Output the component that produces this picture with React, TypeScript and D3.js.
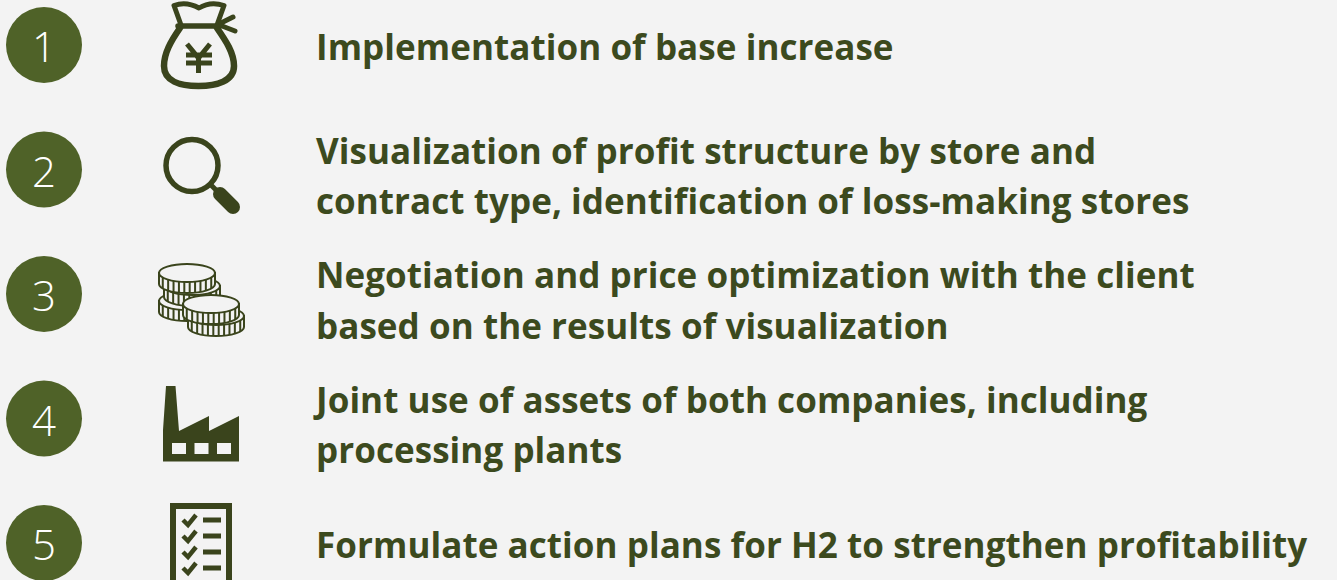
import React from 'react';
import * as d3 from 'd3';

const numbers = ['1', '2', '3', '4', '5'];
const captions = [
  ['Implementation of base increase'],
  ['Visualization of profit structure by store and', 'contract type, identification of loss-making stores'],
  ['Negotiation and price optimization with the client', 'based on the results of visualization'],
  ['Joint use of assets of both companies, including', 'processing plants'],
  ['Formulate action plans for H2 to strengthen profitability'],
];

const W = 1337;
const H = 580;
const BG = '#f3f3f3';
const CIRCLE = '#4f6228';
const DARK = '#3a441c';
const TEXT = '#3c4a1e';

// row centres, evenly spaced down the page
const rowY = d3.scaleLinear().domain([0, 4]).range([45, 543]);

const MoneyBag = () => (
  <g fill="none" stroke={DARK} strokeWidth={6.500} strokeLinejoin="round" strokeLinecap="round">
    <path d="M180 28 C171 41 164 53 164 66 C164 81 180 86 198.500 86 C217 86 234 81 234 66 C234 53 226 41 217 28" />
    <path d="M178 26 H220" strokeWidth={5.500} />
    <path d="M181 25 L174 5.500 C182 2.500 190 3 199 8 C207 3 215 2.500 224 5.500 L217 25" strokeWidth={5} />
    <path d="M221 23 L233 17 M222 26 L235 31" strokeWidth={5} />
    <path d="M187 44 L198.500 58 L210 44 M186 55 H212 M186 63 H212 M198.500 58 V73" strokeWidth={5} strokeLinecap="butt" strokeLinejoin="miter" />
  </g>
);

const Magnifier = () => (
  <g fill="none" stroke={DARK} strokeLinecap="round">
    <circle cx={192} cy={165.500} r={26} strokeWidth={5.500} />
    <path d="M211 185 L219 193" strokeWidth={5} />
    <path d="M220 194 L233 207" strokeWidth={14} />
  </g>
);

const Coin = ({ cx, cy }: { cx: number; cy: number }) => {
  const rx = 28;
  const ry = 9;
  const h = 11;
  const ridges = d3.range(-4.500, 5, 1).map((d) => d / 5.200);
  return (
    <g stroke={DARK} strokeWidth={2} fill={BG}>
      <path d={`M${cx - rx} ${cy} V${cy + h} A${rx} ${ry} 0 0 0 ${cx + rx} ${cy + h} V${cy} Z`} />
      {ridges.map((r) => {
        const x = cx + rx * r;
        const y = cy + ry * Math.sqrt(1 - r * r);
        return <line key={r} x1={x} x2={x} y1={y} y2={y + h} />;
      })}
      <ellipse cx={cx} cy={cy} rx={rx} ry={ry} />
    </g>
  );
};

const Coins = () => (
  <g>
    <Coin cx={187} cy={301} />
    <Coin cx={192} cy={286} />
    <Coin cx={187} cy={273} />
    <Coin cx={216} cy={316} />
    <Coin cx={211} cy={304} />
  </g>
);

const Factory = () => (
  <g>
    <path d="M163 461.500 V430 L166 386 H175.500 L179 431 L209 416 V431 L239 416 V461.500 Z" fill={DARK} />
    {[172, 194.500, 217].map((x) => (
      <rect key={x} x={x} y={443} width={14} height={11} fill={BG} />
    ))}
  </g>
);

const Checklist = () => (
  <g>
    <rect x={173} y={506} width={56} height={80} fill="none" stroke={DARK} strokeWidth={6} />
    {[520, 536, 552, 568].map((y) => (
      <g key={y}>
        <path d={`M183 ${y} L188 ${y + 5} L196 ${y - 5}`} fill="none" stroke={DARK} strokeWidth={4.500} />
        <rect x={203} y={y - 2.500} width={18} height={5} fill={DARK} />
      </g>
    ))}
  </g>
);

export default function App() {
  return (
    <svg
      width={W}
      height={H}
      viewBox={`0 0 ${W} ${H}`}
      style={{ position: 'absolute', left: 0, top: 0, display: 'block' }}
    >
      <rect width={W} height={H} fill={BG} />
      {numbers.map((n, i) => (
        <g key={n}>
          <circle cx={44} cy={rowY(i)} r={38} fill={CIRCLE} />
          <text
            x={44}
            y={rowY(i) + 17}
            textAnchor="middle"
            fontFamily="'Open Sans', sans-serif"
            fontWeight={350}
            fontSize={42}
            fill="#fff"
          >
            {n}
          </text>
        </g>
      ))}
      <MoneyBag />
      <Magnifier />
      <Coins />
      <Factory />
      <Checklist />
      {captions.map((lines, i) =>
        lines.map((line, j) => (
          <text
            key={line}
            x={316}
            y={rowY(i) + (lines.length === 1 ? 14.500 : j === 0 ? -6 : 44.500)}
            fontFamily="'Open Sans', sans-serif"
            fontWeight={700}
            fontSize={35}
            letterSpacing={0.060}
            fill={TEXT}
          >
            {line}
          </text>
        )),
      )}
    </svg>
  );
}
